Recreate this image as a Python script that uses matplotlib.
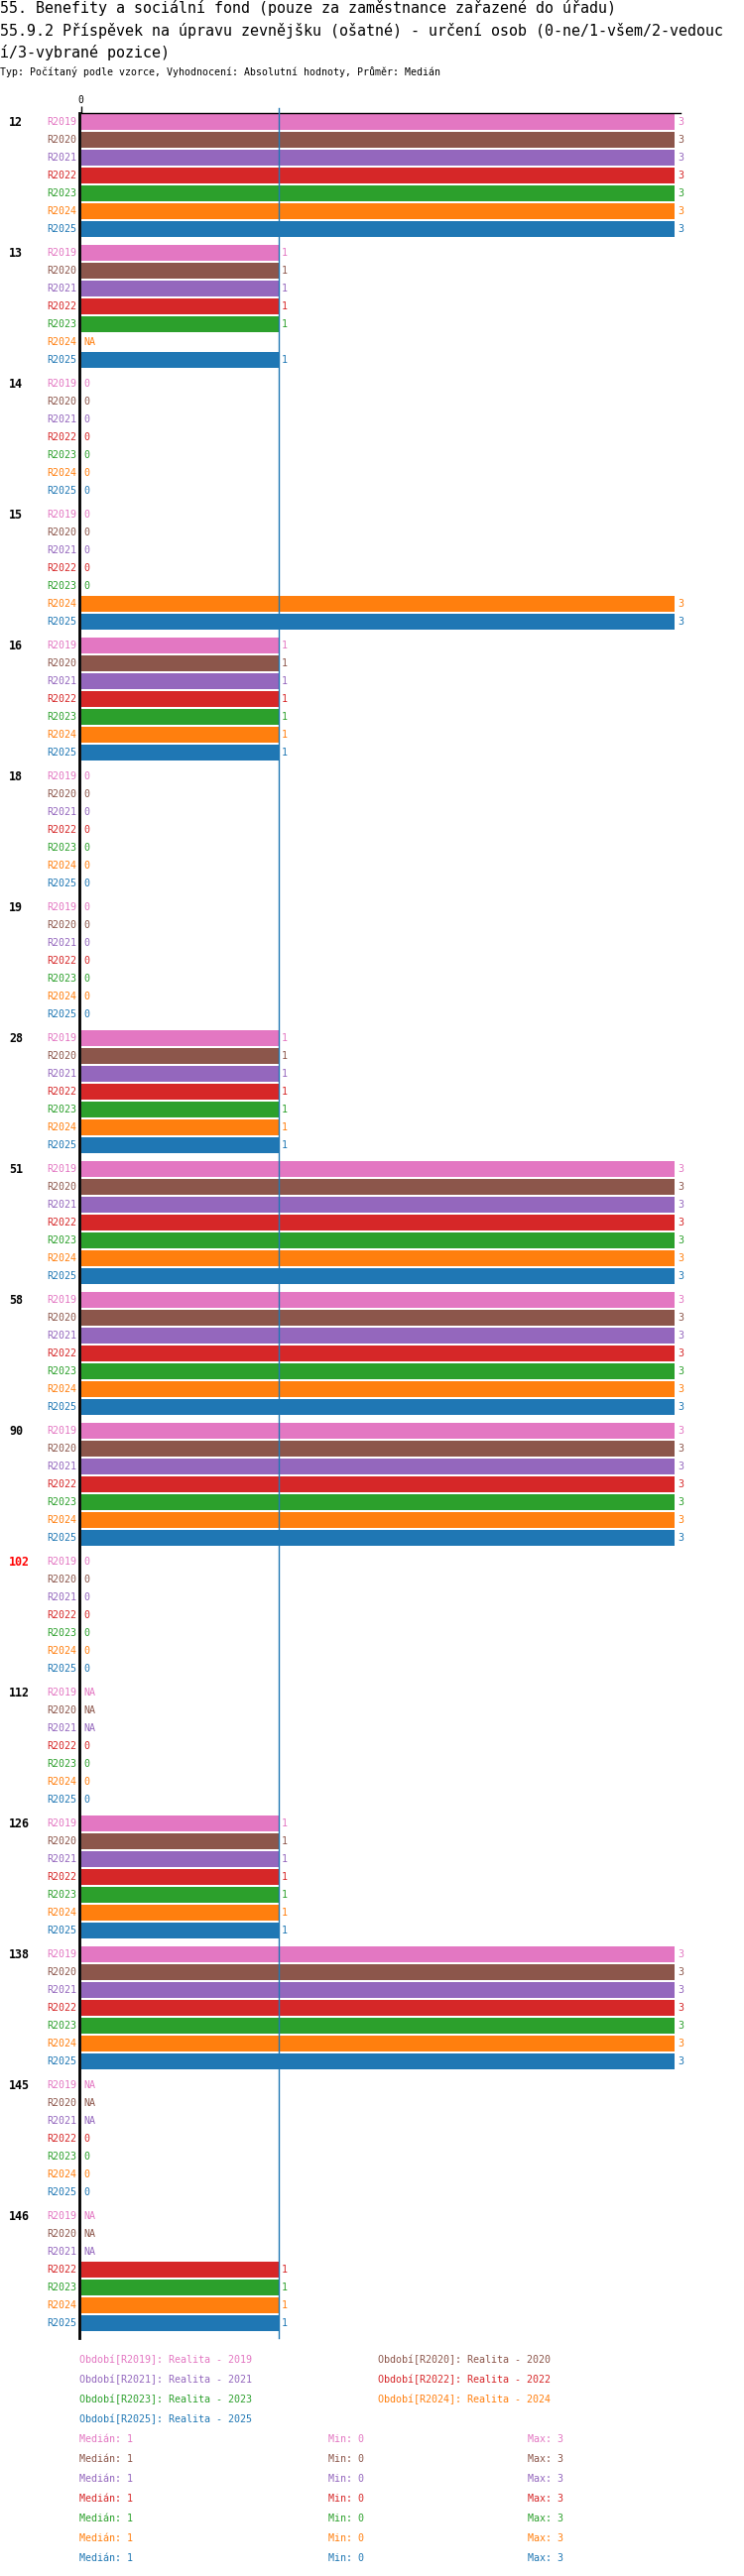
import numpy as np
import matplotlib
matplotlib.use("Agg")
import matplotlib.pyplot as plt
from matplotlib.transforms import blended_transform_factory

NA = np.nan
categories = ["12", "13", "14", "15", "16", "18", "19", "28", "51", "58", "90",
              "102", "112", "126", "138", "145", "146"]
highlight = ["102"]
series = ["R2019", "R2020", "R2021", "R2022", "R2023", "R2024", "R2025"]
colors = ["#e377c2", "#8c564b", "#9467bd", "#d62728", "#2ca02c", "#ff7f0e", "#1f77b4"]
# values[category][series]
values = [
    [3, 3, 3, 3, 3, 3, 3],
    [1, 1, 1, 1, 1, NA, 1],
    [0, 0, 0, 0, 0, 0, 0],
    [0, 0, 0, 0, 0, 3, 3],
    [1, 1, 1, 1, 1, 1, 1],
    [0, 0, 0, 0, 0, 0, 0],
    [0, 0, 0, 0, 0, 0, 0],
    [1, 1, 1, 1, 1, 1, 1],
    [3, 3, 3, 3, 3, 3, 3],
    [3, 3, 3, 3, 3, 3, 3],
    [3, 3, 3, 3, 3, 3, 3],
    [0, 0, 0, 0, 0, 0, 0],
    [NA, NA, NA, 0, 0, 0, 0],
    [1, 1, 1, 1, 1, 1, 1],
    [3, 3, 3, 3, 3, 3, 3],
    [NA, NA, NA, 0, 0, 0, 0],
    [NA, NA, NA, 1, 1, 1, 1],
]
median_value = 1
legend_labels = ["Období[R2019]: Realita - 2019", "Období[R2020]: Realita - 2020",
                 "Období[R2021]: Realita - 2021", "Období[R2022]: Realita - 2022",
                 "Období[R2023]: Realita - 2023", "Období[R2024]: Realita - 2024",
                 "Období[R2025]: Realita - 2025"]
stat_median = [1, 1, 1, 1, 1, 1, 1]
stat_min = [0, 0, 0, 0, 0, 0, 0]
stat_max = [3, 3, 3, 3, 3, 3, 3]

title1 = "55. Benefity a sociální fond (pouze za zaměstnance zařazené do úřadu)"
title2 = "55.9.2 Příspěvek na úpravu zevnějšku (ošatné) - určení osob (0-ne/1-všem/2-vedouc"
title3 = "í/3-vybrané pozice)"
subtitle = "Typ: Počítaný podle vzorce, Vyhodnocení: Absolutní hodnoty, Průměr: Medián"

W, H = 750, 2598
DPI = 100
FONT = ["DejaVu Sans Mono", "DejaVu Sans"]
plt.rcParams["font.family"] = FONT

fig = plt.figure(figsize=(W / DPI, H / DPI), dpi=DPI)

# layout in pixels
ax_left, ax_right = 81.7, 686.0
ax_top, ax_bot = 114.0, 2358.0
row_pitch, group_pitch = 18.0, 132.0
first_row_px = 123.3
unit_px = 199.5

ax = fig.add_axes([ax_left / W, 1 - ax_bot / H, (ax_right - ax_left) / W, (ax_bot - ax_top) / H])
ax.set_xlim(0, (ax_right - ax_left) / unit_px)
ax.set_ylim(ax_bot - first_row_px, ax_top - first_row_px)

for s in ["right", "bottom"]:
    ax.spines[s].set_visible(False)
ax.spines["top"].set_linewidth(1.0)
ax.spines["left"].set_linewidth(2.0)
ax.spines["left"].set_position(("outward", 1))
ax.xaxis.set_ticks_position("top")
ax.set_xticks([0])
ax.set_xticklabels(["0"], fontsize=7)
ax.tick_params(axis="x", length=5, width=1, pad=1)
ax.set_yticks([])

px = 1.0 / unit_px
for g, cat in enumerate(categories):
    base = g * group_pitch
    ax.text(-(ax_left - 9.3) * px, base, cat, ha="left", va="center",
            fontsize=8.4, fontweight="bold",
            color="#ff0000" if cat in highlight else "black", clip_on=False)
    for r, sname in enumerate(series):
        y = base + r * row_pitch
        v = values[g][r]
        c = colors[r]
        ax.text(-4.4 * px, y, sname, ha="right", va="center", fontsize=7.2, color=c, clip_on=False)
        if np.isnan(v):
            ax.text(2.3 * px, y, "NA", ha="left", va="center", fontsize=7.2, color=c)
        else:
            if v > 0:
                ax.barh(y, v, height=16, color=c, left=0)
                ax.text(v + 3 * px, y, f"{v:g}", ha="left", va="center", fontsize=7.2, color=c, clip_on=False)
            else:
                ax.text(2.3 * px, y, f"{v:g}", ha="left", va="center", fontsize=7.2, color=c)

# median line
ax.plot([median_value, median_value], [ax_bot - first_row_px, ax_top - first_row_px - 5],
        color="#1f77b4", lw=1, clip_on=False, zorder=5)

# titles
def fy(p):
    return 1 - p / H

fig.text(0, fy(8.3), title1, ha="left", va="center", fontsize=10.8)
fig.text(0, fy(30.7), title2, ha="left", va="center", fontsize=10.8)
fig.text(0, fy(52.7), title3, ha="left", va="center", fontsize=10.8)
fig.text(0, fy(72.7), subtitle, ha="left", va="center", fontsize=7.1)

# legend
for i, lab in enumerate(legend_labels):
    col = i % 2
    row = i // 2
    x = 80 if col == 0 else 381
    y = 2380 + row * 20
    fig.text(x / W, fy(y), lab, ha="left", va="center", fontsize=7.2, color=colors[i])

for i in range(len(series)):
    y = 2460 + i * 20
    fig.text(80 / W, fy(y), f"Medián: {stat_median[i]}", ha="left", va="center", fontsize=7.2, color=colors[i])
    fig.text(331 / W, fy(y), f"Min: {stat_min[i]}", ha="left", va="center", fontsize=7.2, color=colors[i])
    fig.text(532 / W, fy(y), f"Max: {stat_max[i]}", ha="left", va="center", fontsize=7.2, color=colors[i])

fig.savefig("out.png", dpi=DPI)
